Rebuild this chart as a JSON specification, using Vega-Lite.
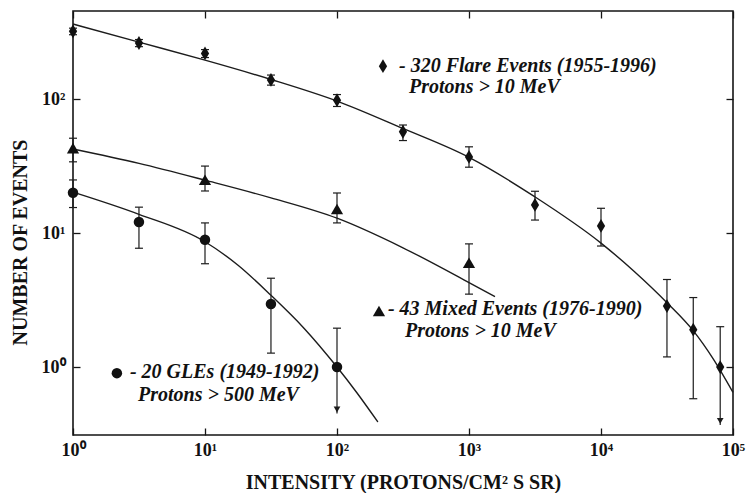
{
  "$schema": "https://vega.github.io/schema/vega-lite/v6.json",
  "width": 660,
  "height": 424,
  "autosize": {"type": "none"},
  "padding": {"left": 73, "top": 11, "right": 14, "bottom": 58},
  "background": "white",
  "config": {
    "view": {"stroke": "#151515", "strokeWidth": 1.6},
    "axis": {
      "domain": false,
      "grid": false,
      "ticks": true,
      "tickSize": -7,
      "tickColor": "#151515",
      "tickWidth": 1.3,
      "labelFont": "Liberation Serif",
      "labelFontWeight": "bold",
      "labelFontSize": 18,
      "labelColor": "#111",
      "labelFlush": false,
      "labelOverlap": false,
      "titleFont": "Liberation Serif",
      "titleFontWeight": "bold",
      "titleFontSize": 20,
      "titleColor": "#111"
    }
  },
  "datasets": {
    "obs": [
      {"series": "flare", "x": 1, "y": 320, "lo": 302, "hi": 338, "arrow": false},
      {"series": "flare", "x": 3.16, "y": 262, "lo": 246, "hi": 278, "arrow": false},
      {"series": "flare", "x": 10, "y": 219, "lo": 204, "hi": 234, "arrow": false},
      {"series": "flare", "x": 31.6, "y": 139, "lo": 127, "hi": 151, "arrow": false},
      {"series": "flare", "x": 100, "y": 98, "lo": 88, "hi": 108, "arrow": false},
      {"series": "flare", "x": 316, "y": 57, "lo": 49, "hi": 64, "arrow": false},
      {"series": "flare", "x": 1000, "y": 37, "lo": 31, "hi": 44, "arrow": false},
      {"series": "flare", "x": 3162, "y": 16.2, "lo": 12.5, "hi": 20.5, "arrow": false},
      {"series": "flare", "x": 10000, "y": 11.3, "lo": 8, "hi": 15.3, "arrow": false},
      {"series": "flare", "x": 31600, "y": 2.85, "lo": 1.19, "hi": 4.5, "arrow": false},
      {"series": "flare", "x": 50000, "y": 1.9, "lo": 0.58, "hi": 3.3, "arrow": false},
      {"series": "flare", "x": 80000, "y": 1.0, "lo": 0.37, "hi": 2.0, "arrow": true},
      {"series": "mixed", "x": 1, "y": 43, "lo": 34, "hi": 51, "arrow": false},
      {"series": "mixed", "x": 10, "y": 25, "lo": 20.6, "hi": 31.6, "arrow": false},
      {"series": "mixed", "x": 100, "y": 15.1, "lo": 11.9, "hi": 19.9, "arrow": false},
      {"series": "mixed", "x": 1000, "y": 6, "lo": 3.5, "hi": 8.3, "arrow": false},
      {"series": "gle", "x": 1, "y": 20, "lo": 15.5, "hi": 24.9, "arrow": false},
      {"series": "gle", "x": 3.16, "y": 12.1, "lo": 7.7, "hi": 15.6, "arrow": false},
      {"series": "gle", "x": 10, "y": 8.9, "lo": 5.9, "hi": 11.9, "arrow": false},
      {"series": "gle", "x": 31.6, "y": 2.95, "lo": 1.27, "hi": 4.6, "arrow": false},
      {"series": "gle", "x": 100, "y": 1.0, "lo": 0.45, "hi": 1.95, "arrow": true}
    ],
    "fit": [
      {"series": "flare", "x": 1, "y": 363},
      {"series": "flare", "x": 3.16, "y": 266},
      {"series": "flare", "x": 10, "y": 195},
      {"series": "flare", "x": 31.6, "y": 140},
      {"series": "flare", "x": 100, "y": 96.6},
      {"series": "flare", "x": 316, "y": 60.3},
      {"series": "flare", "x": 1000, "y": 36.7},
      {"series": "flare", "x": 3162, "y": 18.6},
      {"series": "flare", "x": 10000, "y": 8.41},
      {"series": "flare", "x": 17783, "y": 5.19},
      {"series": "flare", "x": 31623, "y": 3.02},
      {"series": "flare", "x": 50119, "y": 1.86},
      {"series": "flare", "x": 70795, "y": 1.15},
      {"series": "flare", "x": 100000, "y": 0.646},
      {"series": "mixed", "x": 1, "y": 42.4},
      {"series": "mixed", "x": 3.16, "y": 33.1},
      {"series": "mixed", "x": 10, "y": 24.8},
      {"series": "mixed", "x": 31.6, "y": 18.3},
      {"series": "mixed", "x": 100, "y": 12.9},
      {"series": "mixed", "x": 316, "y": 7.76},
      {"series": "mixed", "x": 1000, "y": 4.27},
      {"series": "mixed", "x": 1574, "y": 3.35},
      {"series": "gle", "x": 1, "y": 20.2},
      {"series": "gle", "x": 3.16, "y": 13.8},
      {"series": "gle", "x": 10, "y": 8.61},
      {"series": "gle", "x": 17.8, "y": 5.75},
      {"series": "gle", "x": 31.6, "y": 3.43},
      {"series": "gle", "x": 56.2, "y": 1.95},
      {"series": "gle", "x": 100, "y": 1.0},
      {"series": "gle", "x": 141, "y": 0.646},
      {"series": "gle", "x": 204, "y": 0.389}
    ],
    "keys": [
      {"series": "flare", "x": 223, "y": 176},
      {"series": "mixed", "x": 208, "y": 2.62},
      {"series": "gle", "x": 2.15, "y": 0.9}
    ],
    "notes": [
      {"x": 295, "y": 159, "text": "- 320 Flare Events (1955-1996)"},
      {"x": 351, "y": 111, "text": "Protons > 10 MeV"},
      {"x": 243, "y": 2.44, "text": "- 43 Mixed Events (1976-1990)"},
      {"x": 327, "y": 1.67, "text": "Protons > 10 MeV"},
      {"x": 2.7, "y": 0.828, "text": "- 20 GLEs (1949-1992)"},
      {"x": 3.11, "y": 0.557, "text": "Protons > 500 MeV"}
    ]
  },
  "resolve": {"axis": {"x": "independent", "y": "independent"}},
  "layer": [
    {
      "data": {"name": "fit"},
      "mark": {"type": "line", "color": "#1c1c1c", "strokeWidth": 1.4, "interpolate": "monotone"},
      "encoding": {
        "x": {
          "field": "x", "type": "quantitative",
          "scale": {"type": "log", "domain": [1, 100000], "nice": false},
          "axis": {
            "orient": "bottom",
            "values": [1, 10, 100, 1000, 10000, 100000],
            "labelExpr": "'10' + ['⁰','¹','²','³','⁴','⁵'][round(log(datum.value) / LN10)]",
            "labelPadding": 13,
            "title": "INTENSITY (PROTONS/CM² S SR)",
            "titleY": 53,
            "titleBaseline": "alphabetic"
          }
        },
        "y": {
          "field": "y", "type": "quantitative",
          "scale": {"type": "log", "domain": [0.311, 454], "nice": false},
          "axis": {
            "orient": "left",
            "values": [1, 10, 100],
            "labelExpr": "'10' + ['⁰','¹','²','³'][round(log(datum.value) / LN10)]",
            "labelPadding": 15,
            "title": "NUMBER OF EVENTS",
            "titleX": -53,
            "titleY": 231,
            "titleBaseline": "middle"
          }
        },
        "detail": {"field": "series"}
      }
    },
    {
      "data": {"name": "obs"},
      "mark": {"type": "rule", "color": "#1c1c1c", "strokeWidth": 1.2},
      "encoding": {
        "x": {"field": "x", "type": "quantitative", "axis": null},
        "y": {"field": "lo", "type": "quantitative", "axis": null},
        "y2": {"field": "hi"}
      }
    },
    {
      "data": {"name": "obs"},
      "transform": [
        {"fold": ["lo", "hi"], "as": ["end", "value"]},
        {"filter": "!(datum.arrow && datum.end == 'lo')"}
      ],
      "mark": {"type": "point", "shape": "M-1,0L1,0", "filled": false, "stroke": "#1c1c1c", "strokeWidth": 1.2, "size": 64, "opacity": 1},
      "encoding": {
        "x": {"field": "x", "type": "quantitative", "axis": null},
        "y": {"field": "value", "type": "quantitative", "axis": null}
      }
    },
    {
      "data": {"name": "obs"},
      "transform": [{"filter": "datum.arrow"}],
      "mark": {"type": "point", "shape": "triangle-down", "filled": true, "color": "#1c1c1c", "size": 45, "opacity": 1, "yOffset": -4},
      "encoding": {
        "x": {"field": "x", "type": "quantitative", "axis": null},
        "y": {"field": "lo", "type": "quantitative", "axis": null}
      }
    },
    {
      "data": {"name": "obs"},
      "mark": {"type": "point", "filled": true, "color": "#111", "opacity": 1},
      "encoding": {
        "x": {"field": "x", "type": "quantitative", "axis": null},
        "y": {"field": "y", "type": "quantitative", "axis": null},
        "shape": {
          "field": "series", "type": "nominal", "legend": null,
          "scale": {"domain": ["flare", "mixed", "gle"], "range": ["M0,-1L0.6,0L0,1L-0.6,0Z", "triangle-up", "circle"]}
        },
        "size": {
          "field": "series", "type": "nominal", "legend": null,
          "scale": {"domain": ["flare", "mixed", "gle"], "range": [190, 110, 140]}
        }
      }
    },
    {
      "data": {"name": "keys"},
      "mark": {"type": "point", "filled": true, "color": "#111", "opacity": 1},
      "encoding": {
        "x": {"field": "x", "type": "quantitative", "axis": null},
        "y": {"field": "y", "type": "quantitative", "axis": null},
        "shape": {"field": "series", "type": "nominal", "legend": null},
        "size": {
          "field": "series", "type": "nominal", "legend": null,
          "scale": {"domain": ["flare", "mixed", "gle"], "range": [90, 110, 45]}
        }
      }
    },
    {
      "data": {"name": "notes"},
      "mark": {"type": "text", "align": "left", "baseline": "alphabetic", "font": "Liberation Serif", "fontStyle": "italic", "fontWeight": "bold", "fontSize": 20, "color": "#111"},
      "encoding": {
        "x": {"field": "x", "type": "quantitative", "axis": null},
        "y": {"field": "y", "type": "quantitative", "axis": null},
        "text": {"field": "text"}
      }
    },
    {
      "data": {"name": "keys"},
      "mark": {"type": "point", "opacity": 0},
      "encoding": {
        "x": {
          "field": "x", "type": "quantitative",
          "axis": {"orient": "top", "values": [1, 10, 100, 1000, 10000, 100000], "labels": false, "title": null}
        },
        "y": {
          "field": "y", "type": "quantitative",
          "axis": {"orient": "right", "values": [1, 10, 100], "labels": false, "title": null}
        }
      }
    }
  ]
}
